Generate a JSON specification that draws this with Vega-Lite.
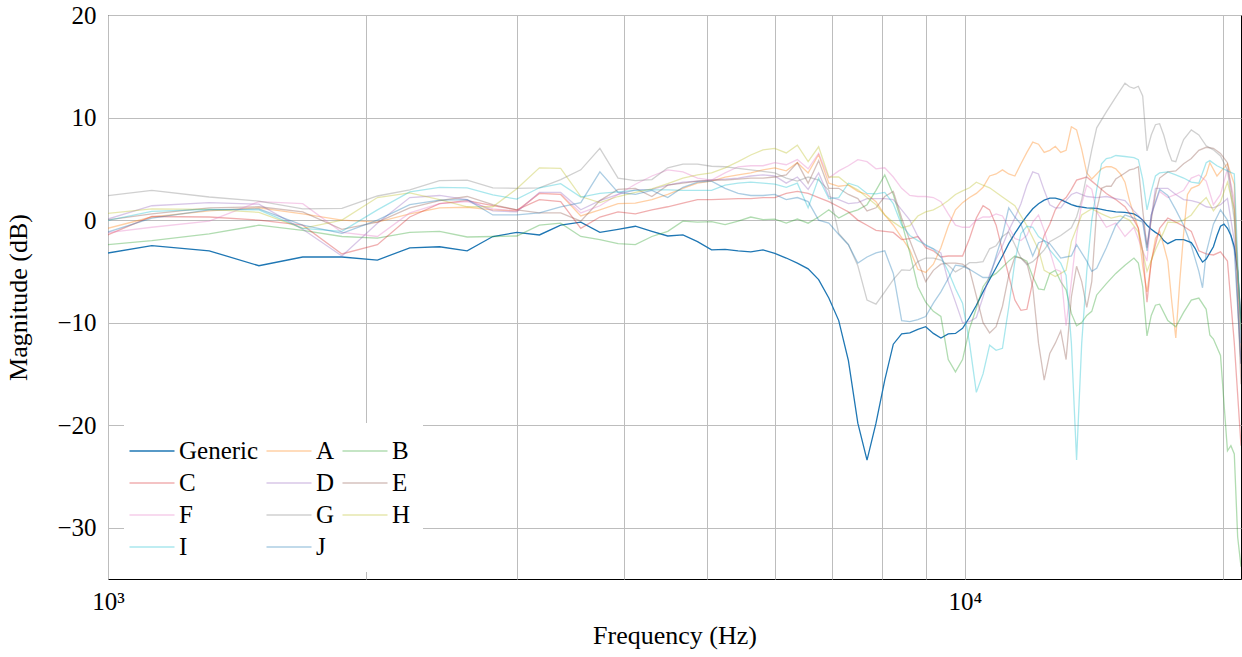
{
"$schema": "https://vega.github.io/schema/vega-lite/v6.json",
"width": 1133, "height": 564,
"autosize": {"type": "none"},
"padding": {"left": 108, "top": 15, "right": 1, "bottom": 78},
"background": "white",
"config": {"view": {"stroke": "black", "strokeWidth": 1}, "font": "Liberation Serif"},
"data": {"values": [
{"s":"Generic","f":937.5,"v":-3.6},{"s":"Generic","f":1125,"v":-2.5},{"s":"Generic","f":1312.5,"v":-3.0},{"s":"Generic","f":1500,"v":-4.45},{"s":"Generic","f":1687.5,"v":-3.6},{"s":"Generic","f":1875,"v":-3.6},{"s":"Generic","f":2062.5,"v":-3.9},{"s":"Generic","f":2250,"v":-2.7},{"s":"Generic","f":2437.5,"v":-2.6},{"s":"Generic","f":2625,"v":-3.0},{"s":"Generic","f":2812.5,"v":-1.6},{"s":"Generic","f":3000,"v":-1.2},{"s":"Generic","f":3187.5,"v":-1.45},{"s":"Generic","f":3375,"v":-0.5},{"s":"Generic","f":3562.5,"v":-0.2},{"s":"Generic","f":3750,"v":-1.2},{"s":"Generic","f":3937.5,"v":-0.9},{"s":"Generic","f":4125,"v":-0.6},{"s":"Generic","f":4312.5,"v":-1.1},{"s":"Generic","f":4500,"v":-1.55},{"s":"Generic","f":4687.5,"v":-1.45},{"s":"Generic","f":4875,"v":-2.1},{"s":"Generic","f":5062.5,"v":-2.9},{"s":"Generic","f":5250,"v":-2.85},{"s":"Generic","f":5437.5,"v":-3.0},{"s":"Generic","f":5625,"v":-3.1},{"s":"Generic","f":5812.5,"v":-2.9},{"s":"Generic","f":6000,"v":-3.25},{"s":"Generic","f":6187.5,"v":-3.7},{"s":"Generic","f":6375,"v":-4.2},{"s":"Generic","f":6562.5,"v":-4.75},{"s":"Generic","f":6750,"v":-5.8},{"s":"Generic","f":6937.5,"v":-7.6},{"s":"Generic","f":7125,"v":-9.8},{"s":"Generic","f":7312.5,"v":-13.7},{"s":"Generic","f":7500,"v":-19.8},{"s":"Generic","f":7687.5,"v":-23.4},{"s":"Generic","f":7875,"v":-19.8},{"s":"Generic","f":8062.5,"v":-15.6},{"s":"Generic","f":8250,"v":-12.1},{"s":"Generic","f":8437.5,"v":-11.1},{"s":"Generic","f":8625,"v":-11.0},{"s":"Generic","f":8812.5,"v":-10.65},{"s":"Generic","f":9000,"v":-10.4},{"s":"Generic","f":9187.5,"v":-11.05},{"s":"Generic","f":9375,"v":-11.5},{"s":"Generic","f":9562.5,"v":-11.1},{"s":"Generic","f":9750,"v":-11.05},{"s":"Generic","f":9937.5,"v":-10.55},{"s":"Generic","f":10125,"v":-9.5},{"s":"Generic","f":10312.5,"v":-8.3},{"s":"Generic","f":10500,"v":-7.0},{"s":"Generic","f":10687.5,"v":-5.8},{"s":"Generic","f":10875,"v":-4.65},{"s":"Generic","f":11062.5,"v":-3.5},{"s":"Generic","f":11250,"v":-2.3},{"s":"Generic","f":11437.5,"v":-1.3},{"s":"Generic","f":11625,"v":-0.4},{"s":"Generic","f":11812.5,"v":0.4},{"s":"Generic","f":12000,"v":1.1},{"s":"Generic","f":12187.5,"v":1.6},{"s":"Generic","f":12375,"v":1.95},{"s":"Generic","f":12562.5,"v":2.15},{"s":"Generic","f":12750,"v":2.15},{"s":"Generic","f":12937.5,"v":2.0},{"s":"Generic","f":13125,"v":1.75},{"s":"Generic","f":13312.5,"v":1.5},{"s":"Generic","f":13500,"v":1.35},{"s":"Generic","f":13875,"v":1.2},{"s":"Generic","f":14250,"v":1.15},{"s":"Generic","f":14625,"v":0.95},{"s":"Generic","f":15000,"v":0.8},{"s":"Generic","f":15375,"v":0.75},{"s":"Generic","f":15750,"v":0.6},{"s":"Generic","f":15937.5,"v":0.35},{"s":"Generic","f":16125,"v":0.0},{"s":"Generic","f":16312.5,"v":-0.5},{"s":"Generic","f":16500,"v":-0.9},{"s":"Generic","f":16687.5,"v":-1.2},{"s":"Generic","f":16875,"v":-1.45},{"s":"Generic","f":17062.5,"v":-2.0},{"s":"Generic","f":17250,"v":-2.3},{"s":"Generic","f":17437.5,"v":-2.1},{"s":"Generic","f":17625,"v":-1.9},{"s":"Generic","f":18000,"v":-1.9},{"s":"Generic","f":18375,"v":-2.2},{"s":"Generic","f":18562.5,"v":-2.75},{"s":"Generic","f":18750,"v":-3.5},{"s":"Generic","f":18937.5,"v":-4.1},{"s":"Generic","f":19125,"v":-3.8},{"s":"Generic","f":19312.5,"v":-3.2},{"s":"Generic","f":19500,"v":-2.6},{"s":"Generic","f":19687.5,"v":-1.5},{"s":"Generic","f":19875,"v":-0.6},{"s":"Generic","f":20062.5,"v":-0.4},{"s":"Generic","f":20250,"v":-0.8},{"s":"Generic","f":20437.5,"v":-1.5},{"s":"Generic","f":20625,"v":-2.6},{"s":"Generic","f":20812.5,"v":-5.0},{"s":"Generic","f":21000,"v":-10},

{"s":"A","f":937.5,"v":-1.4},{"s":"A","f":1125,"v":0.3},{"s":"A","f":1312.5,"v":0.9},{"s":"A","f":1500,"v":1.2},{"s":"A","f":1687.5,"v":0.6},{"s":"A","f":1875,"v":0.0},{"s":"A","f":2062.5,"v":-0.2},{"s":"A","f":2250,"v":0.6},{"s":"A","f":2437.5,"v":1.2},{"s":"A","f":2625,"v":1.25},{"s":"A","f":2812.5,"v":1.0},{"s":"A","f":3000,"v":0.9},{"s":"A","f":3187.5,"v":2.6},{"s":"A","f":3375,"v":2.5},{"s":"A","f":3562.5,"v":0.4},{"s":"A","f":3750,"v":1.0},{"s":"A","f":3937.5,"v":1.6},{"s":"A","f":4125,"v":1.65},{"s":"A","f":4312.5,"v":2.0},{"s":"A","f":4500,"v":2.5},{"s":"A","f":4687.5,"v":3.1},{"s":"A","f":4875,"v":3.6},{"s":"A","f":5062.5,"v":3.8},{"s":"A","f":5250,"v":4.2},{"s":"A","f":5437.5,"v":4.4},{"s":"A","f":5625,"v":4.6},{"s":"A","f":5812.5,"v":4.9},{"s":"A","f":6000,"v":5.1},{"s":"A","f":6187.5,"v":4.8},{"s":"A","f":6375,"v":5.6},{"s":"A","f":6562.5,"v":4.6},{"s":"A","f":6750,"v":6.4},{"s":"A","f":6937.5,"v":3.6},{"s":"A","f":7125,"v":3.3},{"s":"A","f":7312.5,"v":3.4},{"s":"A","f":7500,"v":2.8},{"s":"A","f":7687.5,"v":2.5},{"s":"A","f":7875,"v":1.8},{"s":"A","f":8062.5,"v":0.5},{"s":"A","f":8250,"v":-0.5},{"s":"A","f":8437.5,"v":-1.7},{"s":"A","f":8625,"v":-2.9},{"s":"A","f":8812.5,"v":-4.8},{"s":"A","f":9000,"v":-5.1},{"s":"A","f":9187.5,"v":-4.3},{"s":"A","f":9375,"v":-2.7},{"s":"A","f":9562.5,"v":-0.6},{"s":"A","f":9750,"v":1.0},{"s":"A","f":9937.5,"v":1.7},{"s":"A","f":10125,"v":2.2},{"s":"A","f":10312.5,"v":2.6},{"s":"A","f":10500,"v":3.2},{"s":"A","f":10687.5,"v":4.3},{"s":"A","f":10875,"v":4.5},{"s":"A","f":11062.5,"v":4.9},{"s":"A","f":11250,"v":4.5},{"s":"A","f":11437.5,"v":4.3},{"s":"A","f":11625,"v":5.5},{"s":"A","f":11812.5,"v":6.6},{"s":"A","f":12000,"v":7.6},{"s":"A","f":12187.5,"v":7.4},{"s":"A","f":12375,"v":6.6},{"s":"A","f":12562.5,"v":6.8},{"s":"A","f":12750,"v":7.2},{"s":"A","f":12937.5,"v":6.6},{"s":"A","f":13125,"v":6.8},{"s":"A","f":13312.5,"v":9.1},{"s":"A","f":13500,"v":8.8},{"s":"A","f":13687.5,"v":6.9},{"s":"A","f":13875,"v":4.6},{"s":"A","f":14062.5,"v":4.0},{"s":"A","f":14250,"v":4.5},{"s":"A","f":14437.5,"v":5.0},{"s":"A","f":14625,"v":5.2},{"s":"A","f":14812.5,"v":5.2},{"s":"A","f":15000,"v":5.0},{"s":"A","f":15187.5,"v":4.5},{"s":"A","f":15375,"v":3.7},{"s":"A","f":15562.5,"v":1.9},{"s":"A","f":15750,"v":0.5},{"s":"A","f":15937.5,"v":-0.8},{"s":"A","f":16125,"v":-4.5},{"s":"A","f":16312.5,"v":-7.0},{"s":"A","f":16500,"v":-4.1},{"s":"A","f":16687.5,"v":-1.8},{"s":"A","f":16875,"v":-1.1},{"s":"A","f":17062.5,"v":-2.5},{"s":"A","f":17250,"v":-4.0},{"s":"A","f":17437.5,"v":-8.0},{"s":"A","f":17625,"v":-11.5},{"s":"A","f":17812.5,"v":-6.0},{"s":"A","f":18000,"v":-1.3},{"s":"A","f":18187.5,"v":2.5},{"s":"A","f":18375,"v":3.1},{"s":"A","f":18750,"v":3.4},{"s":"A","f":19125,"v":4.4},{"s":"A","f":19312.5,"v":5.6},{"s":"A","f":19687.5,"v":4.3},{"s":"A","f":20250,"v":5.5},{"s":"A","f":20625,"v":3.5},{"s":"A","f":21000,"v":-14},

{"s":"B","f":937.5,"v":-2.6},{"s":"B","f":1125,"v":-2.0},{"s":"B","f":1312.5,"v":-1.35},{"s":"B","f":1500,"v":-0.5},{"s":"B","f":1687.5,"v":-1.0},{"s":"B","f":1875,"v":-1.6},{"s":"B","f":2062.5,"v":-1.75},{"s":"B","f":2250,"v":-1.2},{"s":"B","f":2437.5,"v":-1.1},{"s":"B","f":2625,"v":-1.65},{"s":"B","f":2812.5,"v":-1.6},{"s":"B","f":3000,"v":-1.55},{"s":"B","f":3187.5,"v":-0.5},{"s":"B","f":3375,"v":-0.3},{"s":"B","f":3562.5,"v":-1.6},{"s":"B","f":3750,"v":-1.9},{"s":"B","f":3937.5,"v":-2.3},{"s":"B","f":4125,"v":-2.4},{"s":"B","f":4312.5,"v":-1.6},{"s":"B","f":4500,"v":-1.1},{"s":"B","f":4687.5,"v":-0.1},{"s":"B","f":4875,"v":-0.2},{"s":"B","f":5062.5,"v":-0.15},{"s":"B","f":5250,"v":-0.45},{"s":"B","f":5437.5,"v":-0.1},{"s":"B","f":5625,"v":0.3},{"s":"B","f":5812.5,"v":0.05},{"s":"B","f":6000,"v":0.1},{"s":"B","f":6187.5,"v":-0.3},{"s":"B","f":6375,"v":0.1},{"s":"B","f":6562.5,"v":-0.3},{"s":"B","f":6750,"v":0.3},{"s":"B","f":6937.5,"v":1.0},{"s":"B","f":7125,"v":0.2},{"s":"B","f":7312.5,"v":0.7},{"s":"B","f":7500,"v":1.0},{"s":"B","f":7687.5,"v":1.5},{"s":"B","f":7875,"v":2.9},{"s":"B","f":8062.5,"v":4.4},{"s":"B","f":8250,"v":2.5},{"s":"B","f":8437.5,"v":-0.2},{"s":"B","f":8625,"v":-3.2},{"s":"B","f":8812.5,"v":-6.5},{"s":"B","f":9000,"v":-8.0},{"s":"B","f":9187.5,"v":-8.9},{"s":"B","f":9375,"v":-9.4},{"s":"B","f":9562.5,"v":-13.6},{"s":"B","f":9750,"v":-14.8},{"s":"B","f":9937.5,"v":-13.6},{"s":"B","f":10125,"v":-10.6},{"s":"B","f":10312.5,"v":-8.6},{"s":"B","f":10500,"v":-6.5},{"s":"B","f":10687.5,"v":-5.6},{"s":"B","f":10875,"v":-5.2},{"s":"B","f":11062.5,"v":-4.6},{"s":"B","f":11250,"v":-4.0},{"s":"B","f":11437.5,"v":-3.5},{"s":"B","f":11625,"v":-3.7},{"s":"B","f":11812.5,"v":-4.0},{"s":"B","f":12000,"v":-5.5},{"s":"B","f":12187.5,"v":-6.7},{"s":"B","f":12375,"v":-6.8},{"s":"B","f":12562.5,"v":-5.2},{"s":"B","f":12750,"v":-4.9},{"s":"B","f":12937.5,"v":-6.0},{"s":"B","f":13125,"v":-6.8},{"s":"B","f":13312.5,"v":-9.1},{"s":"B","f":13500,"v":-10.3},{"s":"B","f":13687.5,"v":-10.0},{"s":"B","f":13875,"v":-9.3},{"s":"B","f":14062.5,"v":-8.9},{"s":"B","f":14250,"v":-7.3},{"s":"B","f":14625,"v":-6.2},{"s":"B","f":15000,"v":-5.2},{"s":"B","f":15375,"v":-4.4},{"s":"B","f":15750,"v":-3.7},{"s":"B","f":15937.5,"v":-4.2},{"s":"B","f":16125,"v":-6.5},{"s":"B","f":16312.5,"v":-11.3},{"s":"B","f":16500,"v":-9.3},{"s":"B","f":16687.5,"v":-8.3},{"s":"B","f":16875,"v":-8.2},{"s":"B","f":17250,"v":-9.8},{"s":"B","f":17625,"v":-10.4},{"s":"B","f":18000,"v":-9.0},{"s":"B","f":18375,"v":-7.8},{"s":"B","f":18750,"v":-7.6},{"s":"B","f":19125,"v":-8.7},{"s":"B","f":19312.5,"v":-11.2},{"s":"B","f":19500,"v":-11.6},{"s":"B","f":19875,"v":-13.2},{"s":"B","f":20250,"v":-22.5},{"s":"B","f":20437.5,"v":-22.0},{"s":"B","f":20625,"v":-22.8},{"s":"B","f":20812.5,"v":-30.9},{"s":"B","f":21000,"v":-33.8},

{"s":"C","f":937.5,"v":-2.4},{"s":"C","f":1125,"v":0.35},{"s":"C","f":1312.5,"v":0.3},{"s":"C","f":1500,"v":0.0},{"s":"C","f":1687.5,"v":-0.5},{"s":"C","f":1875,"v":-3.3},{"s":"C","f":2062.5,"v":-2.4},{"s":"C","f":2250,"v":0.3},{"s":"C","f":2437.5,"v":1.6},{"s":"C","f":2625,"v":1.9},{"s":"C","f":2812.5,"v":1.4},{"s":"C","f":3000,"v":1.0},{"s":"C","f":3187.5,"v":2.0},{"s":"C","f":3375,"v":1.8},{"s":"C","f":3562.5,"v":-0.8},{"s":"C","f":3750,"v":0.3},{"s":"C","f":3937.5,"v":0.8},{"s":"C","f":4125,"v":0.6},{"s":"C","f":4312.5,"v":1.0},{"s":"C","f":4500,"v":1.3},{"s":"C","f":4687.5,"v":1.65},{"s":"C","f":4875,"v":2.0},{"s":"C","f":5062.5,"v":2.0},{"s":"C","f":5250,"v":2.05},{"s":"C","f":5437.5,"v":2.1},{"s":"C","f":5625,"v":2.1},{"s":"C","f":5812.5,"v":2.2},{"s":"C","f":6000,"v":2.2},{"s":"C","f":6187.5,"v":2.6},{"s":"C","f":6375,"v":2.8},{"s":"C","f":6562.5,"v":2.6},{"s":"C","f":6750,"v":2.2},{"s":"C","f":6937.5,"v":1.8},{"s":"C","f":7125,"v":1.3},{"s":"C","f":7312.5,"v":0.8},{"s":"C","f":7500,"v":0.0},{"s":"C","f":7687.5,"v":-0.5},{"s":"C","f":7875,"v":-1.0},{"s":"C","f":8062.5,"v":-1.1},{"s":"C","f":8250,"v":-1.2},{"s":"C","f":8437.5,"v":-1.9},{"s":"C","f":8625,"v":-1.8},{"s":"C","f":8812.5,"v":-1.6},{"s":"C","f":9000,"v":-2.7},{"s":"C","f":9187.5,"v":-3.0},{"s":"C","f":9375,"v":-3.6},{"s":"C","f":9562.5,"v":-3.5},{"s":"C","f":9750,"v":-3.5},{"s":"C","f":9937.5,"v":-3.5},{"s":"C","f":10125,"v":-1.8},{"s":"C","f":10312.5,"v":0.2},{"s":"C","f":10500,"v":1.4},{"s":"C","f":10687.5,"v":1.0},{"s":"C","f":10875,"v":-0.5},{"s":"C","f":11062.5,"v":-3.0},{"s":"C","f":11250,"v":-5.4},{"s":"C","f":11437.5,"v":-7.8},{"s":"C","f":11625,"v":-8.8},{"s":"C","f":11812.5,"v":-8.7},{"s":"C","f":12000,"v":-6.0},{"s":"C","f":12187.5,"v":-3.3},{"s":"C","f":12375,"v":-1.5},{"s":"C","f":12562.5,"v":-0.4},{"s":"C","f":12750,"v":1.0},{"s":"C","f":12937.5,"v":1.8},{"s":"C","f":13125,"v":2.2},{"s":"C","f":13312.5,"v":3.0},{"s":"C","f":13500,"v":3.9},{"s":"C","f":13875,"v":4.2},{"s":"C","f":14062.5,"v":3.8},{"s":"C","f":14250,"v":3.4},{"s":"C","f":14625,"v":2.6},{"s":"C","f":15000,"v":2.0},{"s":"C","f":15375,"v":1.3},{"s":"C","f":15750,"v":0.0},{"s":"C","f":15937.5,"v":-0.8},{"s":"C","f":16125,"v":-3.0},{"s":"C","f":16312.5,"v":-8.0},{"s":"C","f":16500,"v":-4.0},{"s":"C","f":16875,"v":-0.8},{"s":"C","f":17250,"v":0.2},{"s":"C","f":17625,"v":-0.2},{"s":"C","f":18000,"v":-0.6},{"s":"C","f":18375,"v":-1.1},{"s":"C","f":18750,"v":-3.0},{"s":"C","f":19125,"v":-3.3},{"s":"C","f":19500,"v":-3.4},{"s":"C","f":19875,"v":-3.1},{"s":"C","f":20250,"v":-4.0},{"s":"C","f":20625,"v":-12.0},{"s":"C","f":21000,"v":-22.0},

{"s":"D","f":937.5,"v":-0.6},{"s":"D","f":1125,"v":1.4},{"s":"D","f":1312.5,"v":1.7},{"s":"D","f":1500,"v":1.55},{"s":"D","f":1687.5,"v":-0.9},{"s":"D","f":1875,"v":-3.5},{"s":"D","f":2062.5,"v":-0.3},{"s":"D","f":2250,"v":2.2},{"s":"D","f":2437.5,"v":2.4},{"s":"D","f":2625,"v":2.0},{"s":"D","f":2812.5,"v":0.9},{"s":"D","f":3000,"v":0.8},{"s":"D","f":3187.5,"v":2.7},{"s":"D","f":3375,"v":2.7},{"s":"D","f":3562.5,"v":1.0},{"s":"D","f":3750,"v":1.9},{"s":"D","f":3937.5,"v":2.5},{"s":"D","f":4125,"v":2.95},{"s":"D","f":4312.5,"v":3.0},{"s":"D","f":4500,"v":3.4},{"s":"D","f":4687.5,"v":3.7},{"s":"D","f":4875,"v":3.8},{"s":"D","f":5062.5,"v":3.9},{"s":"D","f":5250,"v":4.0},{"s":"D","f":5437.5,"v":4.1},{"s":"D","f":5625,"v":4.3},{"s":"D","f":5812.5,"v":4.4},{"s":"D","f":6000,"v":4.3},{"s":"D","f":6187.5,"v":3.6},{"s":"D","f":6375,"v":4.2},{"s":"D","f":6562.5,"v":3.0},{"s":"D","f":6750,"v":4.6},{"s":"D","f":6937.5,"v":2.3},{"s":"D","f":7125,"v":2.0},{"s":"D","f":7312.5,"v":1.6},{"s":"D","f":7500,"v":1.7},{"s":"D","f":7687.5,"v":2.1},{"s":"D","f":7875,"v":2.1},{"s":"D","f":8062.5,"v":2.1},{"s":"D","f":8250,"v":2.0},{"s":"D","f":8437.5,"v":1.0},{"s":"D","f":8625,"v":0.0},{"s":"D","f":8812.5,"v":-1.6},{"s":"D","f":9000,"v":-2.5},{"s":"D","f":9187.5,"v":-2.8},{"s":"D","f":9375,"v":-3.2},{"s":"D","f":9562.5,"v":-6.0},{"s":"D","f":9750,"v":-8.0},{"s":"D","f":9937.5,"v":-10.0},{"s":"D","f":10125,"v":-9.9},{"s":"D","f":10312.5,"v":-9.5},{"s":"D","f":10500,"v":-7.5},{"s":"D","f":10687.5,"v":-5.3},{"s":"D","f":10875,"v":-3.8},{"s":"D","f":11062.5,"v":-2.5},{"s":"D","f":11250,"v":-1.0},{"s":"D","f":11437.5,"v":0.2},{"s":"D","f":11625,"v":1.6},{"s":"D","f":11812.5,"v":3.4},{"s":"D","f":12000,"v":4.7},{"s":"D","f":12187.5,"v":4.5},{"s":"D","f":12375,"v":2.9},{"s":"D","f":12562.5,"v":1.5},{"s":"D","f":12750,"v":1.2},{"s":"D","f":12937.5,"v":1.2},{"s":"D","f":13125,"v":1.9},{"s":"D","f":13312.5,"v":2.5},{"s":"D","f":13500,"v":2.7},{"s":"D","f":13875,"v":2.3},{"s":"D","f":14250,"v":2.2},{"s":"D","f":14625,"v":2.3},{"s":"D","f":15000,"v":2.1},{"s":"D","f":15375,"v":1.9},{"s":"D","f":15750,"v":0.9},{"s":"D","f":16125,"v":0.0},{"s":"D","f":16312.5,"v":-2.4},{"s":"D","f":16500,"v":0.3},{"s":"D","f":16687.5,"v":3.1},{"s":"D","f":17250,"v":3.1},{"s":"D","f":17625,"v":2.5},{"s":"D","f":18000,"v":2.0},{"s":"D","f":18375,"v":1.9},{"s":"D","f":18750,"v":1.7},{"s":"D","f":19125,"v":1.3},{"s":"D","f":19500,"v":1.2},{"s":"D","f":19875,"v":1.5},{"s":"D","f":20250,"v":2.1},{"s":"D","f":20625,"v":-2.0},{"s":"D","f":21000,"v":-14},

{"s":"E","f":937.5,"v":-0.3},{"s":"E","f":1125,"v":0.6},{"s":"E","f":1312.5,"v":1.2},{"s":"E","f":1500,"v":1.3},{"s":"E","f":1687.5,"v":0.8},{"s":"E","f":1875,"v":-0.9},{"s":"E","f":2062.5,"v":-0.2},{"s":"E","f":2250,"v":1.2},{"s":"E","f":2437.5,"v":1.9},{"s":"E","f":2625,"v":2.3},{"s":"E","f":2812.5,"v":1.5},{"s":"E","f":3000,"v":1.0},{"s":"E","f":3187.5,"v":0.7},{"s":"E","f":3375,"v":0.7},{"s":"E","f":3562.5,"v":-0.1},{"s":"E","f":3750,"v":1.9},{"s":"E","f":3937.5,"v":3.0},{"s":"E","f":4125,"v":3.1},{"s":"E","f":4312.5,"v":2.3},{"s":"E","f":4500,"v":3.4},{"s":"E","f":4687.5,"v":3.6},{"s":"E","f":4875,"v":3.8},{"s":"E","f":5062.5,"v":3.9},{"s":"E","f":5250,"v":3.9},{"s":"E","f":5437.5,"v":4.0},{"s":"E","f":5625,"v":4.1},{"s":"E","f":5812.5,"v":4.1},{"s":"E","f":6000,"v":4.2},{"s":"E","f":6187.5,"v":4.4},{"s":"E","f":6375,"v":5.6},{"s":"E","f":6562.5,"v":3.6},{"s":"E","f":6750,"v":5.8},{"s":"E","f":6937.5,"v":3.1},{"s":"E","f":7125,"v":3.1},{"s":"E","f":7312.5,"v":2.5},{"s":"E","f":7500,"v":2.1},{"s":"E","f":7687.5,"v":0.9},{"s":"E","f":7875,"v":1.2},{"s":"E","f":8062.5,"v":2.3},{"s":"E","f":8250,"v":2.8},{"s":"E","f":8437.5,"v":0.2},{"s":"E","f":8625,"v":-2.0},{"s":"E","f":8812.5,"v":-4.0},{"s":"E","f":9000,"v":-6.0},{"s":"E","f":9187.5,"v":-4.9},{"s":"E","f":9375,"v":-4.3},{"s":"E","f":9562.5,"v":-4.2},{"s":"E","f":9750,"v":-4.2},{"s":"E","f":9937.5,"v":-4.3},{"s":"E","f":10125,"v":-4.8},{"s":"E","f":10312.5,"v":-7.4},{"s":"E","f":10500,"v":-10.0},{"s":"E","f":10687.5,"v":-11.0},{"s":"E","f":10875,"v":-10.4},{"s":"E","f":11062.5,"v":-8.4},{"s":"E","f":11250,"v":-5.4},{"s":"E","f":11437.5,"v":-3.6},{"s":"E","f":11625,"v":-3.7},{"s":"E","f":11812.5,"v":-4.2},{"s":"E","f":12000,"v":-6.5},{"s":"E","f":12187.5,"v":-12.0},{"s":"E","f":12375,"v":-15.6},{"s":"E","f":12562.5,"v":-13.0},{"s":"E","f":12750,"v":-12.0},{"s":"E","f":12937.5,"v":-10.8},{"s":"E","f":13125,"v":-13.6},{"s":"E","f":13312.5,"v":-7.5},{"s":"E","f":13500,"v":-4.5},{"s":"E","f":13687.5,"v":-6.0},{"s":"E","f":13875,"v":-8.5},{"s":"E","f":14062.5,"v":-6.0},{"s":"E","f":14250,"v":1.0},{"s":"E","f":14437.5,"v":3.1},{"s":"E","f":14625,"v":3.3},{"s":"E","f":14812.5,"v":3.3},{"s":"E","f":15000,"v":4.0},{"s":"E","f":15375,"v":4.6},{"s":"E","f":15562.5,"v":4.9},{"s":"E","f":15750,"v":5.0},{"s":"E","f":15937.5,"v":5.2},{"s":"E","f":16125,"v":1.0},{"s":"E","f":16312.5,"v":-2.7},{"s":"E","f":16500,"v":0.0},{"s":"E","f":16687.5,"v":2.5},{"s":"E","f":16875,"v":4.1},{"s":"E","f":17250,"v":4.7},{"s":"E","f":17625,"v":4.8},{"s":"E","f":18000,"v":5.5},{"s":"E","f":18375,"v":6.0},{"s":"E","f":18750,"v":6.8},{"s":"E","f":19125,"v":7.1},{"s":"E","f":19500,"v":7.0},{"s":"E","f":19875,"v":6.5},{"s":"E","f":20250,"v":5.6},{"s":"E","f":20625,"v":1.0},{"s":"E","f":21000,"v":-16},

{"s":"F","f":937.5,"v":-1.5},{"s":"F","f":1125,"v":-0.7},{"s":"F","f":1312.5,"v":-0.1},{"s":"F","f":1500,"v":1.8},{"s":"F","f":1687.5,"v":1.6},{"s":"F","f":1875,"v":-1.2},{"s":"F","f":2062.5,"v":-1.6},{"s":"F","f":2250,"v":0.7},{"s":"F","f":2437.5,"v":1.6},{"s":"F","f":2625,"v":1.8},{"s":"F","f":2812.5,"v":1.1},{"s":"F","f":3000,"v":0.9},{"s":"F","f":3187.5,"v":2.6},{"s":"F","f":3375,"v":2.5},{"s":"F","f":3562.5,"v":0.7},{"s":"F","f":3750,"v":1.4},{"s":"F","f":3937.5,"v":2.5},{"s":"F","f":4125,"v":3.5},{"s":"F","f":4312.5,"v":4.3},{"s":"F","f":4500,"v":4.9},{"s":"F","f":4687.5,"v":4.7},{"s":"F","f":4875,"v":4.1},{"s":"F","f":5062.5,"v":3.9},{"s":"F","f":5250,"v":4.6},{"s":"F","f":5437.5,"v":5.2},{"s":"F","f":5625,"v":5.3},{"s":"F","f":5812.5,"v":5.3},{"s":"F","f":6000,"v":5.6},{"s":"F","f":6187.5,"v":5.4},{"s":"F","f":6375,"v":5.9},{"s":"F","f":6562.5,"v":5.0},{"s":"F","f":6750,"v":6.5},{"s":"F","f":6937.5,"v":4.1},{"s":"F","f":7125,"v":4.8},{"s":"F","f":7312.5,"v":5.3},{"s":"F","f":7500,"v":5.9},{"s":"F","f":7687.5,"v":5.7},{"s":"F","f":7875,"v":5.0},{"s":"F","f":8062.5,"v":5.1},{"s":"F","f":8250,"v":4.2},{"s":"F","f":8437.5,"v":3.1},{"s":"F","f":8625,"v":2.4},{"s":"F","f":8812.5,"v":2.3},{"s":"F","f":9000,"v":2.3},{"s":"F","f":9187.5,"v":2.2},{"s":"F","f":9375,"v":1.8},{"s":"F","f":9562.5,"v":0.6},{"s":"F","f":9750,"v":-0.5},{"s":"F","f":9937.5,"v":-0.7},{"s":"F","f":10125,"v":-0.7},{"s":"F","f":10312.5,"v":0.0},{"s":"F","f":10500,"v":0.3},{"s":"F","f":10687.5,"v":0.3},{"s":"F","f":10875,"v":0.6},{"s":"F","f":11062.5,"v":0.4},{"s":"F","f":11250,"v":-0.7},{"s":"F","f":11437.5,"v":-1.8},{"s":"F","f":11625,"v":-2.0},{"s":"F","f":11812.5,"v":-1.5},{"s":"F","f":12000,"v":-0.2},{"s":"F","f":12187.5,"v":0.5},{"s":"F","f":12375,"v":-1.0},{"s":"F","f":12562.5,"v":-3.0},{"s":"F","f":12750,"v":-4.8},{"s":"F","f":12937.5,"v":-5.0},{"s":"F","f":13125,"v":-10.3},{"s":"F","f":13312.5,"v":-6.0},{"s":"F","f":13500,"v":-1.5},{"s":"F","f":13687.5,"v":1.6},{"s":"F","f":13875,"v":3.4},{"s":"F","f":14062.5,"v":3.0},{"s":"F","f":14250,"v":0.8},{"s":"F","f":14625,"v":-0.7},{"s":"F","f":15000,"v":-0.3},{"s":"F","f":15375,"v":-1.6},{"s":"F","f":15750,"v":-0.7},{"s":"F","f":16125,"v":-3.0},{"s":"F","f":16312.5,"v":-4.0},{"s":"F","f":16500,"v":0.5},{"s":"F","f":16875,"v":2.8},{"s":"F","f":17250,"v":2.2},{"s":"F","f":17625,"v":2.5},{"s":"F","f":18000,"v":2.9},{"s":"F","f":18375,"v":4.1},{"s":"F","f":18750,"v":4.4},{"s":"F","f":19125,"v":3.8},{"s":"F","f":19500,"v":1.5},{"s":"F","f":19875,"v":2.5},{"s":"F","f":20250,"v":5.0},{"s":"F","f":20625,"v":2.0},{"s":"F","f":21000,"v":-12},

{"s":"G","f":937.5,"v":2.1},{"s":"G","f":1125,"v":2.9},{"s":"G","f":1312.5,"v":2.25},{"s":"G","f":1500,"v":1.85},{"s":"G","f":1687.5,"v":1.1},{"s":"G","f":1875,"v":1.15},{"s":"G","f":2062.5,"v":2.35},{"s":"G","f":2250,"v":2.95},{"s":"G","f":2437.5,"v":3.85},{"s":"G","f":2625,"v":3.9},{"s":"G","f":2812.5,"v":3.15},{"s":"G","f":3000,"v":3.1},{"s":"G","f":3187.5,"v":3.15},{"s":"G","f":3375,"v":3.95},{"s":"G","f":3562.5,"v":4.9},{"s":"G","f":3750,"v":7.0},{"s":"G","f":3937.5,"v":4.1},{"s":"G","f":4125,"v":3.85},{"s":"G","f":4312.5,"v":3.95},{"s":"G","f":4500,"v":5.1},{"s":"G","f":4687.5,"v":5.45},{"s":"G","f":4875,"v":5.45},{"s":"G","f":5062.5,"v":5.25},{"s":"G","f":5250,"v":5.2},{"s":"G","f":5437.5,"v":5.05},{"s":"G","f":5625,"v":4.9},{"s":"G","f":5812.5,"v":4.75},{"s":"G","f":6000,"v":4.6},{"s":"G","f":6187.5,"v":4.1},{"s":"G","f":6375,"v":3.8},{"s":"G","f":6562.5,"v":4.2},{"s":"G","f":6750,"v":3.9},{"s":"G","f":6937.5,"v":2.9},{"s":"G","f":7125,"v":-1.3},{"s":"G","f":7312.5,"v":-2.4},{"s":"G","f":7500,"v":-4.45},{"s":"G","f":7687.5,"v":-7.8},{"s":"G","f":7875,"v":-8.2},{"s":"G","f":8062.5,"v":-7.0},{"s":"G","f":8250,"v":-5.8},{"s":"G","f":8437.5,"v":-4.85},{"s":"G","f":8625,"v":-4.9},{"s":"G","f":8812.5,"v":-4.05},{"s":"G","f":9000,"v":-3.7},{"s":"G","f":9187.5,"v":-3.7},{"s":"G","f":9375,"v":-3.9},{"s":"G","f":9562.5,"v":-4.4},{"s":"G","f":9750,"v":-5.05},{"s":"G","f":9937.5,"v":-4.65},{"s":"G","f":10125,"v":-4.15},{"s":"G","f":10312.5,"v":-4.15},{"s":"G","f":10500,"v":-4.05},{"s":"G","f":10687.5,"v":-2.8},{"s":"G","f":10875,"v":-2.5},{"s":"G","f":11062.5,"v":-1.6},{"s":"G","f":11250,"v":-1.15},{"s":"G","f":11437.5,"v":-2.4},{"s":"G","f":11625,"v":-3.7},{"s":"G","f":11812.5,"v":-4.35},{"s":"G","f":12000,"v":-4.05},{"s":"G","f":12187.5,"v":-3.5},{"s":"G","f":12375,"v":-2.9},{"s":"G","f":12562.5,"v":-2.1},{"s":"G","f":12937.5,"v":-1.5},{"s":"G","f":13312.5,"v":-0.75},{"s":"G","f":13500,"v":0.3},{"s":"G","f":13687.5,"v":2.0},{"s":"G","f":13875,"v":4.4},{"s":"G","f":14062.5,"v":6.85},{"s":"G","f":14250,"v":9.0},{"s":"G","f":14625,"v":10.55},{"s":"G","f":15000,"v":12.0},{"s":"G","f":15375,"v":13.35},{"s":"G","f":15562.5,"v":13.0},{"s":"G","f":15750,"v":12.85},{"s":"G","f":15937.5,"v":13.05},{"s":"G","f":16125,"v":12.1},{"s":"G","f":16312.5,"v":6.75},{"s":"G","f":16500,"v":8.3},{"s":"G","f":16687.5,"v":9.3},{"s":"G","f":16875,"v":9.4},{"s":"G","f":17062.5,"v":8.3},{"s":"G","f":17250,"v":6.85},{"s":"G","f":17437.5,"v":5.8},{"s":"G","f":17625,"v":5.7},{"s":"G","f":17812.5,"v":6.85},{"s":"G","f":18000,"v":7.85},{"s":"G","f":18375,"v":8.8},{"s":"G","f":18750,"v":8.3},{"s":"G","f":19125,"v":7.25},{"s":"G","f":19500,"v":6.85},{"s":"G","f":19875,"v":6.25},{"s":"G","f":20250,"v":4.9},{"s":"G","f":20625,"v":0.0},{"s":"G","f":21000,"v":-9.7},

{"s":"H","f":937.5,"v":0.4},{"s":"H","f":1125,"v":1.1},{"s":"H","f":1312.5,"v":1.05},{"s":"H","f":1500,"v":0.75},{"s":"H","f":1687.5,"v":-0.8},{"s":"H","f":1875,"v":0.0},{"s":"H","f":2062.5,"v":2.2},{"s":"H","f":2250,"v":2.65},{"s":"H","f":2437.5,"v":2.0},{"s":"H","f":2625,"v":1.3},{"s":"H","f":2812.5,"v":1.3},{"s":"H","f":3000,"v":3.05},{"s":"H","f":3187.5,"v":5.1},{"s":"H","f":3375,"v":5.05},{"s":"H","f":3562.5,"v":2.3},{"s":"H","f":3750,"v":1.7},{"s":"H","f":3937.5,"v":2.3},{"s":"H","f":4125,"v":2.7},{"s":"H","f":4312.5,"v":3.05},{"s":"H","f":4500,"v":3.55},{"s":"H","f":4687.5,"v":4.1},{"s":"H","f":4875,"v":4.4},{"s":"H","f":5062.5,"v":4.6},{"s":"H","f":5250,"v":5.1},{"s":"H","f":5437.5,"v":5.7},{"s":"H","f":5625,"v":6.35},{"s":"H","f":5812.5,"v":6.85},{"s":"H","f":6000,"v":7.0},{"s":"H","f":6187.5,"v":6.55},{"s":"H","f":6375,"v":7.3},{"s":"H","f":6562.5,"v":5.7},{"s":"H","f":6750,"v":7.15},{"s":"H","f":6937.5,"v":4.2},{"s":"H","f":7125,"v":4.2},{"s":"H","f":7312.5,"v":3.45},{"s":"H","f":7500,"v":2.95},{"s":"H","f":7687.5,"v":2.2},{"s":"H","f":7875,"v":1.5},{"s":"H","f":8062.5,"v":0.5},{"s":"H","f":8250,"v":-0.2},{"s":"H","f":8437.5,"v":-0.75},{"s":"H","f":8625,"v":-0.55},{"s":"H","f":8812.5,"v":0.4},{"s":"H","f":9000,"v":0.8},{"s":"H","f":9187.5,"v":1.0},{"s":"H","f":9375,"v":1.4},{"s":"H","f":9562.5,"v":1.9},{"s":"H","f":9750,"v":2.5},{"s":"H","f":9937.5,"v":2.85},{"s":"H","f":10125,"v":3.15},{"s":"H","f":10312.5,"v":3.7},{"s":"H","f":10500,"v":3.4},{"s":"H","f":10687.5,"v":3.15},{"s":"H","f":11062.5,"v":2.25},{"s":"H","f":11437.5,"v":1.4},{"s":"H","f":11812.5,"v":-0.55},{"s":"H","f":12187.5,"v":-2.9},{"s":"H","f":12375,"v":-4.9},{"s":"H","f":12750,"v":-5.5},{"s":"H","f":13125,"v":-4.9},{"s":"H","f":13312.5,"v":-2.1},{"s":"H","f":13687.5,"v":0.5},{"s":"H","f":14062.5,"v":1.1},{"s":"H","f":14437.5,"v":0.6},{"s":"H","f":14812.5,"v":0.2},{"s":"H","f":15187.5,"v":0.4},{"s":"H","f":15562.5,"v":0.0},{"s":"H","f":15937.5,"v":-1.15},{"s":"H","f":16312.5,"v":-5.0},{"s":"H","f":16687.5,"v":-2.9},{"s":"H","f":17062.5,"v":-1.15},{"s":"H","f":17250,"v":-0.2},{"s":"H","f":17625,"v":-0.25},{"s":"H","f":18000,"v":0.0},{"s":"H","f":18375,"v":0.5},{"s":"H","f":18750,"v":1.5},{"s":"H","f":19125,"v":2.2},{"s":"H","f":19500,"v":0.9},{"s":"H","f":19875,"v":1.8},{"s":"H","f":20250,"v":3.7},{"s":"H","f":20625,"v":1.0},{"s":"H","f":21000,"v":-10.7},

{"s":"I","f":937.5,"v":-0.5},{"s":"I","f":1125,"v":0.85},{"s":"I","f":1312.5,"v":1.05},{"s":"I","f":1500,"v":1.0},{"s":"I","f":1687.5,"v":-0.8},{"s":"I","f":1875,"v":-1.1},{"s":"I","f":2062.5,"v":1.0},{"s":"I","f":2250,"v":2.75},{"s":"I","f":2437.5,"v":3.2},{"s":"I","f":2625,"v":3.15},{"s":"I","f":2812.5,"v":2.45},{"s":"I","f":3000,"v":2.05},{"s":"I","f":3187.5,"v":3.15},{"s":"I","f":3375,"v":3.55},{"s":"I","f":3562.5,"v":2.25},{"s":"I","f":3750,"v":2.6},{"s":"I","f":3937.5,"v":2.75},{"s":"I","f":4125,"v":2.9},{"s":"I","f":4312.5,"v":2.95},{"s":"I","f":4500,"v":2.95},{"s":"I","f":4687.5,"v":2.9},{"s":"I","f":4875,"v":2.9},{"s":"I","f":5062.5,"v":2.9},{"s":"I","f":5250,"v":3.4},{"s":"I","f":5437.5,"v":3.6},{"s":"I","f":5625,"v":3.7},{"s":"I","f":5812.5,"v":3.6},{"s":"I","f":6000,"v":3.5},{"s":"I","f":6187.5,"v":3.2},{"s":"I","f":6375,"v":3.6},{"s":"I","f":6562.5,"v":1.2},{"s":"I","f":6750,"v":4.1},{"s":"I","f":6937.5,"v":2.1},{"s":"I","f":7125,"v":2.2},{"s":"I","f":7312.5,"v":3.6},{"s":"I","f":7500,"v":3.3},{"s":"I","f":7687.5,"v":2.6},{"s":"I","f":7875,"v":2.55},{"s":"I","f":8062.5,"v":2.7},{"s":"I","f":8250,"v":1.6},{"s":"I","f":8437.5,"v":-0.5},{"s":"I","f":8625,"v":-1.5},{"s":"I","f":8812.5,"v":-2.0},{"s":"I","f":9000,"v":-2.4},{"s":"I","f":9187.5,"v":-2.8},{"s":"I","f":9375,"v":-3.6},{"s":"I","f":9562.5,"v":-5.0},{"s":"I","f":9750,"v":-6.7},{"s":"I","f":9937.5,"v":-8.1},{"s":"I","f":10125,"v":-12.0},{"s":"I","f":10312.5,"v":-16.8},{"s":"I","f":10500,"v":-15.0},{"s":"I","f":10687.5,"v":-12.2},{"s":"I","f":10875,"v":-12.7},{"s":"I","f":11062.5,"v":-12.5},{"s":"I","f":11250,"v":-8.5},{"s":"I","f":11437.5,"v":-4.0},{"s":"I","f":11625,"v":-1.3},{"s":"I","f":11812.5,"v":-0.6},{"s":"I","f":12000,"v":-0.7},{"s":"I","f":12187.5,"v":-1.6},{"s":"I","f":12375,"v":-2.0},{"s":"I","f":12562.5,"v":-2.9},{"s":"I","f":12937.5,"v":-4.2},{"s":"I","f":13125,"v":-5.4},{"s":"I","f":13312.5,"v":-12.0},{"s":"I","f":13500,"v":-23.4},{"s":"I","f":13687.5,"v":-12.0},{"s":"I","f":13875,"v":-5.0},{"s":"I","f":14062.5,"v":0.0},{"s":"I","f":14250,"v":3.0},{"s":"I","f":14437.5,"v":5.5},{"s":"I","f":14625,"v":6.0},{"s":"I","f":14812.5,"v":6.1},{"s":"I","f":15000,"v":6.3},{"s":"I","f":15375,"v":6.2},{"s":"I","f":15750,"v":6.1},{"s":"I","f":15937.5,"v":5.9},{"s":"I","f":16125,"v":4.0},{"s":"I","f":16312.5,"v":1.0},{"s":"I","f":16500,"v":2.8},{"s":"I","f":16687.5,"v":4.3},{"s":"I","f":16875,"v":4.6},{"s":"I","f":17250,"v":4.7},{"s":"I","f":17625,"v":4.4},{"s":"I","f":18000,"v":4.1},{"s":"I","f":18375,"v":3.7},{"s":"I","f":18750,"v":3.6},{"s":"I","f":19125,"v":5.6},{"s":"I","f":19312.5,"v":5.8},{"s":"I","f":19687.5,"v":5.3},{"s":"I","f":20250,"v":4.8},{"s":"I","f":20625,"v":4.5},{"s":"I","f":21000,"v":-12},

{"s":"J","f":937.5,"v":-1.9},{"s":"J","f":1125,"v":0.2},{"s":"J","f":1312.5,"v":1.0},{"s":"J","f":1500,"v":1.1},{"s":"J","f":1687.5,"v":-0.5},{"s":"J","f":1875,"v":-1.3},{"s":"J","f":2062.5,"v":0.0},{"s":"J","f":2250,"v":1.5},{"s":"J","f":2437.5,"v":1.95},{"s":"J","f":2625,"v":2.0},{"s":"J","f":2812.5,"v":0.5},{"s":"J","f":3000,"v":0.5},{"s":"J","f":3187.5,"v":0.7},{"s":"J","f":3375,"v":1.3},{"s":"J","f":3562.5,"v":1.7},{"s":"J","f":3750,"v":4.7},{"s":"J","f":3937.5,"v":2.7},{"s":"J","f":4125,"v":2.5},{"s":"J","f":4312.5,"v":2.9},{"s":"J","f":4500,"v":2.2},{"s":"J","f":4687.5,"v":3.2},{"s":"J","f":4875,"v":3.7},{"s":"J","f":5062.5,"v":3.8},{"s":"J","f":5250,"v":3.1},{"s":"J","f":5437.5,"v":2.6},{"s":"J","f":5625,"v":2.4},{"s":"J","f":5812.5,"v":2.4},{"s":"J","f":6000,"v":2.5},{"s":"J","f":6187.5,"v":2.0},{"s":"J","f":6375,"v":2.2},{"s":"J","f":6562.5,"v":1.8},{"s":"J","f":6750,"v":0.0},{"s":"J","f":6937.5,"v":-0.3},{"s":"J","f":7125,"v":-1.4},{"s":"J","f":7312.5,"v":-2.4},{"s":"J","f":7500,"v":-4.2},{"s":"J","f":7687.5,"v":-3.6},{"s":"J","f":7875,"v":-3.2},{"s":"J","f":8062.5,"v":-3.0},{"s":"J","f":8250,"v":-5.2},{"s":"J","f":8437.5,"v":-9.8},{"s":"J","f":8625,"v":-9.9},{"s":"J","f":8812.5,"v":-9.7},{"s":"J","f":9000,"v":-9.4},{"s":"J","f":9187.5,"v":-8.1},{"s":"J","f":9375,"v":-7.0},{"s":"J","f":9562.5,"v":-5.7},{"s":"J","f":9750,"v":-4.4},{"s":"J","f":9937.5,"v":-4.5},{"s":"J","f":10125,"v":-4.8},{"s":"J","f":10500,"v":-5.6},{"s":"J","f":10687.5,"v":-5.6},{"s":"J","f":10875,"v":-3.5},{"s":"J","f":11062.5,"v":-1.5},{"s":"J","f":11250,"v":1.2},{"s":"J","f":11437.5,"v":0.3},{"s":"J","f":11625,"v":-0.4},{"s":"J","f":11812.5,"v":-2.0},{"s":"J","f":12000,"v":-3.5},{"s":"J","f":12187.5,"v":-2.2},{"s":"J","f":12375,"v":-2.0},{"s":"J","f":12562.5,"v":-2.3},{"s":"J","f":12937.5,"v":-3.7},{"s":"J","f":13125,"v":-3.6},{"s":"J","f":13312.5,"v":-3.5},{"s":"J","f":13500,"v":-2.4},{"s":"J","f":13875,"v":-4.0},{"s":"J","f":14062.5,"v":-5.0},{"s":"J","f":14250,"v":-4.7},{"s":"J","f":14625,"v":-2.7},{"s":"J","f":15000,"v":-0.5},{"s":"J","f":15375,"v":0.5},{"s":"J","f":15750,"v":0.2},{"s":"J","f":16125,"v":-0.2},{"s":"J","f":16312.5,"v":-3.0},{"s":"J","f":16500,"v":0.5},{"s":"J","f":16875,"v":3.0},{"s":"J","f":17250,"v":2.4},{"s":"J","f":17625,"v":1.0},{"s":"J","f":18000,"v":-0.5},{"s":"J","f":18375,"v":-2.5},{"s":"J","f":18750,"v":-5.0},{"s":"J","f":18937.5,"v":-6.6},{"s":"J","f":19125,"v":-3.2},{"s":"J","f":19500,"v":-0.4},{"s":"J","f":19875,"v":1.0},{"s":"J","f":20250,"v":0.0},{"s":"J","f":20625,"v":-3.0},{"s":"J","f":21000,"v":-14}
]},
"mark": {"type": "line", "clip": true, "strokeWidth": 1.3},
"encoding": {
"x": {"field": "f", "type": "quantitative",
 "scale": {"type": "log", "domain": [1000, 21000], "nice": false},
 "axis": {"values": [1000,2000,3000,4000,5000,6000,7000,8000,9000,10000,20000],
  "labelExpr": "datum.value == 1000 ? '10³' : (datum.value == 10000 ? '10⁴' : '')",
  "title": "Frequency (Hz)", "grid": true, "gridColor": "#bdbdbd", "gridWidth": 1, "ticks": false, "domain": false,
  "labelFont": "Liberation Serif", "labelFontSize": 25, "labelColor": "black", "labelPadding": 10, "labelFlush": false,
  "titleFont": "Liberation Serif", "titleFontSize": 26, "titleFontWeight": "normal", "titleColor": "black", "titlePadding": 8}},
"y": {"field": "v", "type": "quantitative",
 "scale": {"domain": [-35, 20], "nice": false, "zero": false},
 "axis": {"values": [-30,-20,-10,0,10,20],
  "labelExpr": "datum.value < 0 ? '−' + abs(datum.value) : datum.label",
  "title": "Magnitude (dB)", "grid": true, "gridColor": "#bdbdbd", "gridWidth": 1, "ticks": false, "domain": false,
  "labelFont": "Liberation Serif", "labelFontSize": 25, "labelColor": "black", "labelPadding": 12,
  "titleFont": "Liberation Serif", "titleFontSize": 26, "titleFontWeight": "normal", "titleColor": "black", "titlePadding": 25}},
"color": {"field": "s", "type": "nominal",
 "scale": {"domain": ["Generic","A","B","C","D","E","F","G","H","I","J"],
  "range": ["#1f77b4","#ff7f0e","#2ca02c","#d62728","#9467bd","#8c564b","#e377c2","#7f7f7f","#bcbd22","#17becf","#1f77b4"]},
 "legend": {"orient": "none", "legendX": 16, "legendY": 408, "columns": 3, "direction": "horizontal", "gridAlign": "each", "title": null,
  "symbolType": "M-1.5,0H1.5", "symbolSize": 900, "symbolStrokeWidth": 1.3, "symbolFillColor": "transparent",
  "labelFont": "Liberation Serif", "labelFontSize": 25, "labelColor": "black", "labelOffset": 11, "labelLimit": 200,
  "fillColor": "white", "padding": 12, "columnPadding": 4, "rowPadding": 3, "symbolLimit": 0,
  "encode": {"symbols": {"update": {"strokeOpacity": {"signal": "datum.value === 'Generic' ? 1 : 0.37"}}}}}},
"strokeOpacity": {"condition": {"test": "datum.s === 'Generic'", "value": 1}, "value": 0.37},
"strokeWidth": {"condition": {"test": "datum.s === 'Generic'", "value": 1.5}, "value": 1.3}
}
}
